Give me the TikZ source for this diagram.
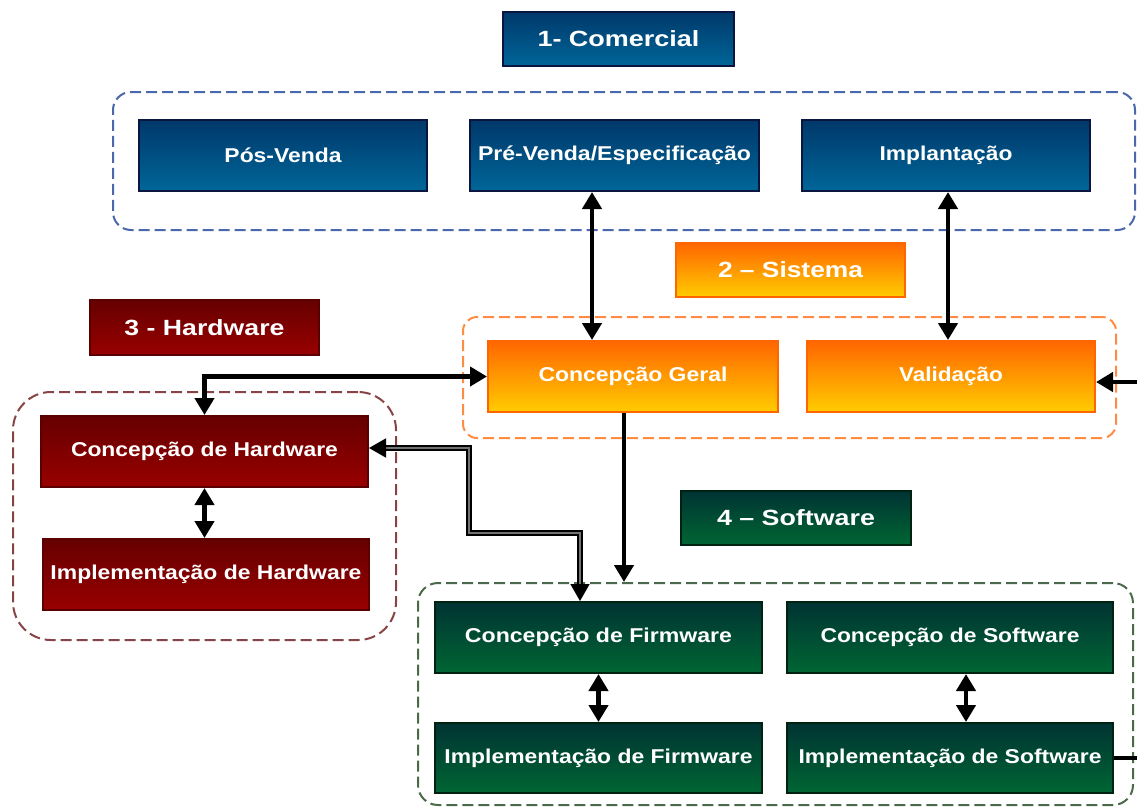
\documentclass[tikz,border=0pt]{standalone}
\usepackage{fontspec}
\usepackage{graphicx}
\setmainfont{Liberation Sans}
\usetikzlibrary{arrows.meta}
\definecolor{bltop}{HTML}{00386A}
\definecolor{blbot}{HTML}{006699}
\definecolor{bldraw}{HTML}{0A1540}
\definecolor{ortop}{HTML}{FF6600}
\definecolor{orbot}{HTML}{FFCC00}
\definecolor{ordraw}{HTML}{FF6600}
\definecolor{rdtop}{HTML}{660000}
\definecolor{rdbot}{HTML}{990000}
\definecolor{rddraw}{HTML}{5A0000}
\definecolor{grtop}{HTML}{003333}
\definecolor{grbot}{HTML}{006633}
\definecolor{grdraw}{HTML}{002211}
\definecolor{blgrp}{HTML}{4A68AA}
\definecolor{orgrp}{HTML}{FF8C40}
\definecolor{rdgrp}{HTML}{884444}
\definecolor{grgrp}{HTML}{4A6A4A}
\newcommand\tw[2]{\resizebox{#1}{\height}{#2}}
\tikzset{
  basebox/.style={inner sep=0pt, line width=2pt, text=white,
    font=\fontsize{20}{23}\selectfont\bfseries},
  bluebox/.style={basebox, draw=bldraw, top color=bltop, bottom color=blbot},
  orangebox/.style={basebox, draw=ordraw, top color=ortop, bottom color=orbot},
  redbox/.style={basebox, draw=rddraw, top color=rdtop, bottom color=rdbot},
  greenbox/.style={basebox, draw=grdraw, top color=grtop, bottom color=grbot},
  titlefont/.style={font=\fontsize{22}{25}\selectfont\bfseries},
  group/.style={inner sep=0pt, line width=2pt, dash pattern=on 11pt off 5pt},
  conn/.style={line width=4.5pt, black},
  >={Triangle[length=17pt,width=19pt]}
}
\begin{document}
\begin{tikzpicture}[x=1pt,y=-1pt]
\useasboundingbox (0,0) rectangle (1137,807);
\clip (0,0) rectangle (1137,807);
% groups
\node[group, draw=blgrp, rounded corners=18pt, minimum width=1022pt, minimum height=138pt] (comg) at (624,161) {};
\node[group, draw=orgrp, rounded corners=14pt, minimum width=653pt, minimum height=121pt] (sisg) at (789.5,377.5) {};
\node[group, draw=rdgrp, rounded corners=38pt, minimum width=383pt, minimum height=248pt] (hwg) at (204.5,516) {};
\node[group, draw=grgrp, rounded corners=20pt, minimum width=715pt, minimum height=222pt] (swg) at (775.5,694) {};
% titles
\node[bluebox, titlefont, minimum width=231pt, minimum height=54pt] (com) at (618.5,39) {\tw{162pt}{1- Comercial}};
\node[orangebox, titlefont, minimum width=229pt, minimum height=54pt] (sis) at (790.5,270) {\tw{145pt}{2 – Sistema}};
\node[redbox, titlefont, minimum width=229pt, minimum height=55pt] (hw) at (204.5,327.5) {\tw{160pt}{3 - Hardware}};
\node[greenbox, titlefont, minimum width=230pt, minimum height=54pt] (sw) at (796,518) {\tw{158pt}{4 – Software}};
% boxes
\node[bluebox, minimum width=288pt, minimum height=71pt] (pv) at (283,155.5) {\tw{117pt}{Pós-Venda}};
\node[bluebox, minimum width=289pt, minimum height=71pt] (prv) at (614.5,155.5) {\tw{273pt}{Pré-Venda/Especificação}};
\node[bluebox, minimum width=288pt, minimum height=71pt] (imp) at (946,155.5) {\tw{133pt}{Implantação}};
\node[orangebox, minimum width=290pt, minimum height=71pt] (cg) at (633,376.5) {\tw{189pt}{Concepção Geral}};
\node[orangebox, minimum width=288pt, minimum height=71pt] (val) at (951,376.5) {\tw{104pt}{Validação}};
\node[redbox, minimum width=327pt, minimum height=71pt] (ch) at (204.5,451.5) {\tw{267pt}{Concepção de Hardware}};
\node[redbox, minimum width=326pt, minimum height=71pt] (ih) at (206,574.5) {\tw{311pt}{Implementação de Hardware}};
\node[greenbox, minimum width=327pt, minimum height=71pt] (cf) at (598.5,637.5) {\tw{267pt}{Concepção de Firmware}};
\node[greenbox, minimum width=326pt, minimum height=71pt] (cs) at (950,637.5) {\tw{259pt}{Concepção de Software}};
\node[greenbox, minimum width=327pt, minimum height=70pt] (if) at (598.5,758) {\tw{308pt}{Implementação de Firmware}};
\node[greenbox, minimum width=326pt, minimum height=70pt] (is) at (950,758) {\tw{303pt}{Implementação de Software}};
% helper coordinates
\coordinate (xa) at (592,0);
\coordinate (xb) at (948,0);
\coordinate (xc) at (624,0);
\coordinate (xs) at (966,0);
\coordinate (d1) at (469,533);
\coordinate (off) at (1165,600);
% connectors
\draw[conn, <->] (prv.south -| xa) -- (cg.north -| xa);
\draw[conn, <->] (imp.south -| xb) -- (val.north -| xb);
\draw[conn, <->] (ch.north) |- (cg.west);
\draw[conn, ->] (cg.south -| xc) -- (swg.north -| xc);
\draw[conn, <->] (ch.south) -- (ch.south |- ih.north);
\draw[conn, <->] (cf.south) -- (cf.south |- if.north);
\draw[conn, <->] (cs.south -| xs) -- (is.north -| xs);
\draw[line width=1.8pt, black, double=black!55, double distance=1.6pt, <->] ([yshift=3.5pt]ch.east) -| (d1) -| ([xshift=-18.5pt]cf.north);
\draw[conn, ->] (is.east) -| (off) |- ([yshift=-5.5pt]val.east);
\end{tikzpicture}
\end{document}
